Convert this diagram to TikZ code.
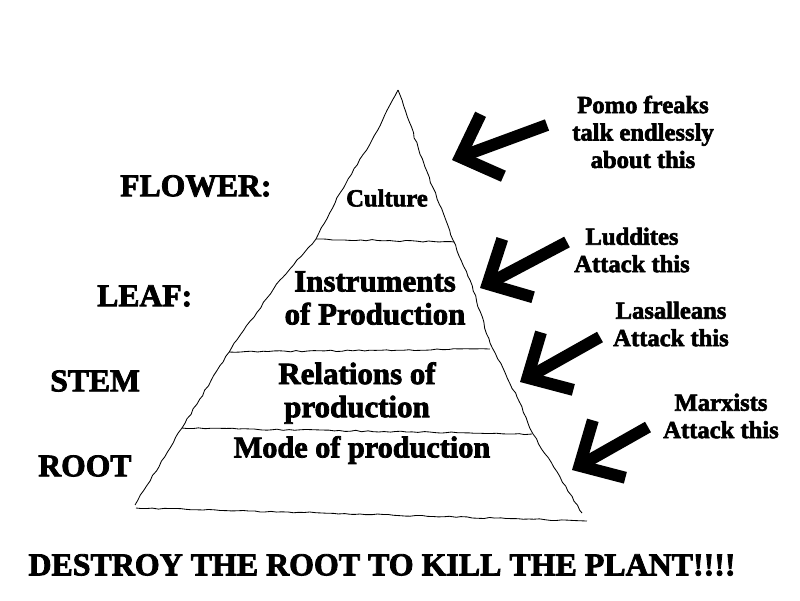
\documentclass[tikz,border=0pt]{standalone}
\usepackage{fontspec}
\setmainfont{Liberation Serif}
\newfontfamily\heavy[FakeBold=2.5]{Liberation Serif}
\usetikzlibrary{arrows.meta,decorations.pathmorphing}
\begin{document}
\begin{tikzpicture}[x=0.025cm,y=-0.025cm,
    wob/.style={line width=0.6pt,decorate,decoration={random steps,segment length=4pt,amplitude=0.5pt}},
    tier/.style={font=\heavy\bfseries\fontsize{22}{23.5}\selectfont,align=center},
    part/.style={font=\heavy\bfseries\fontsize{22.5}{24}\selectfont,anchor=west,inner sep=0pt},
    note/.style={font=\heavy\bfseries\fontsize{17.5}{19.5}\selectfont,align=center},
    jab/.style={line width=0.3cm,-{Straight Barb[sharp,length=0.85cm,width=1.65cm]}}]
  \pgfmathsetseed{11}
  \useasboundingbox (0,0) rectangle (800,600);
  \draw[wob] (398,90) -- (372,140) -- (340,193) -- (316,239) -- (280,280)
    -- (232,347) -- (182,428) -- (135,505);
  \draw[wob] (398,90) -- (425,167) -- (453,240) -- (470,280) -- (490,343)
    -- (517,397) -- (533,434) -- (582,513);
  \draw[wob] (136,508) -- (360,514) -- (587,521);
  \draw[wob] (316,239) -- (454,242);
  \draw[wob] (229,352) -- (490,349);
  \draw[wob] (182,428) -- (532,434);
  \draw
    (387,198) node[tier,font=\heavy\bfseries\fontsize{17.5}{19}\selectfont] (culture){Culture}
    (375,298) node[tier] (instr){Instruments\\of Production}
    (357,393) node[tier] (rel){Relations of\\production}
    (362,450) node[tier,font=\heavy\bfseries\fontsize{21.5}{23}\selectfont] (mode){Mode of production};
  \draw
    (120,186) node[part] (flower){FLOWER:}
    (97,296) node[part] (leaf){LEAF:}
    (50,381) node[part] (stem){STEM}
    (38,466) node[part] (root){ROOT}
    (382,565) node[font=\heavy\bfseries\fontsize{22.7}{24}\selectfont] (slogan){DESTROY THE ROOT TO KILL THE PLANT!!!!};
  \draw
    (643,132) node[note] (pomo){Pomo freaks\\talk endlessly\\about this}
    (632,250) node[note] (ludd){Luddites\\Attack this}
    (671,324) node[note] (lasa){Lasalleans\\Attack this}
    (721,416) node[note] (marx){Marxists\\Attack this};
  \coordinate (t1) at (547,125); \coordinate (h1) at (452,160);
  \coordinate (t2) at (567,242); \coordinate (h2) at (480,288);
  \coordinate (t3) at (600,337); \coordinate (h3) at (520,382);
  \coordinate (t4) at (648,427); \coordinate (h4) at (572,470);
  \begin{scope}[jab]
    \draw (t1) to (h1);
    \draw (t2) to (h2);
    \draw (t3) to (h3);
    \draw (t4) to (h4);
  \end{scope}
\end{tikzpicture}
\end{document}
